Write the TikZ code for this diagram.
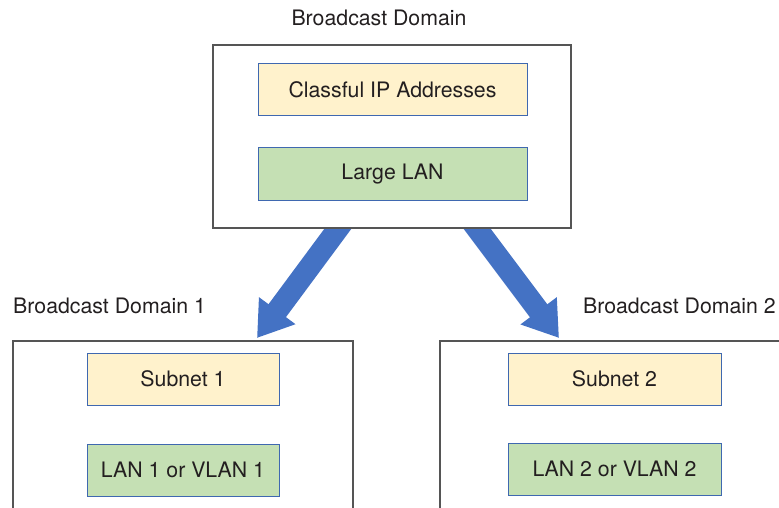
\documentclass[tikz,border=0pt]{standalone}
\usepackage{fontspec}
\setmainfont{TeX Gyre Heros}
\usetikzlibrary{arrows.meta}
\pgfdeclarelayer{background}
\pgfsetlayers{background,main}
\definecolor{txt}{HTML}{231F20}
\definecolor{boxline}{HTML}{555555}
\definecolor{innerline}{HTML}{3F68B0}
\definecolor{yel}{HTML}{FFF2CC}
\definecolor{grn}{HTML}{C5E0B4}
\definecolor{arrblue}{HTML}{4472C4}
\tikzset{
  outerbox/.style={draw=boxline, line width=1.3pt, fill=white, rectangle, anchor=north west, inner sep=0pt, outer sep=0pt},
  innerbox/.style={draw=innerline, line width=1pt, rectangle, anchor=north west, inner sep=0pt, outer sep=0pt, minimum height=52pt, text=txt, font=\fontsize{21.3}{25}\selectfont},
  yelbox/.style={innerbox, fill=yel},
  grnbox/.style={innerbox, fill=grn},
  lbl/.style={text=txt, font=\fontsize{21.3}{25}\selectfont, inner sep=0pt},
  bigarrow/.style={draw=arrblue, line width=21.7pt, line cap=butt,
    -{Triangle[width=43pt, length=34pt, fill=arrblue]}}
}
\begin{document}
\begin{tikzpicture}[x=1pt,y=-1pt]
\useasboundingbox (0,0) rectangle (779,508);
\clip (0,0) rectangle (779,508);
% outer boxes
\node[outerbox, minimum width=358pt, minimum height=183pt] (top) at (213,45) {};
\node[outerbox, minimum width=340pt, minimum height=220pt] (bd1) at (13,341) {};
\node[outerbox, minimum width=420pt, minimum height=220pt] (bd2) at (440,341) {};
% inner boxes
\node[yelbox, minimum width=269pt] (cip) at (258,64) {};
\node[lbl] at (cip.center) {Classful IP Addresses};
\node[grnbox, minimum width=269pt] (llan) at (258,148) {};
\node[lbl] at (llan.center) {Large LAN};
\node[yelbox, minimum width=192pt] (sn1) at (87,353) {};
\node[lbl] at (sn1.center) {Subnet 1};
\node[grnbox, minimum width=192pt] (lan1) at (87,444) {};
\node[lbl] at (lan1.center) {LAN 1 or VLAN 1};
\node[yelbox, minimum width=213pt] (sn2) at (508,353) {};
\node[lbl] at (sn2.center) {Subnet 2};
\node[grnbox, minimum width=213pt] (lan2) at (508,443) {};
\node[lbl] at (lan2.center) {LAN 2 or VLAN 2};
% labels
\node[lbl] (tl) at (379,18) {Broadcast Domain};
\node[lbl, anchor=west] (l1) at (13,306) {Broadcast Domain 1};
\node[lbl, anchor=east] (l2) at (776,306) {Broadcast Domain 2};
% arrows
\coordinate (a1s) at (346.6,217);
\coordinate (a1e) at (257,338);
\coordinate (a2s) at (468.3,217);
\coordinate (a2e) at (559,338);
\begin{pgfonlayer}{background}
\draw[bigarrow] (a1s) -- (a1e);
\draw[bigarrow] (a2s) -- (a2e);
\end{pgfonlayer}
\end{tikzpicture}
\end{document}
